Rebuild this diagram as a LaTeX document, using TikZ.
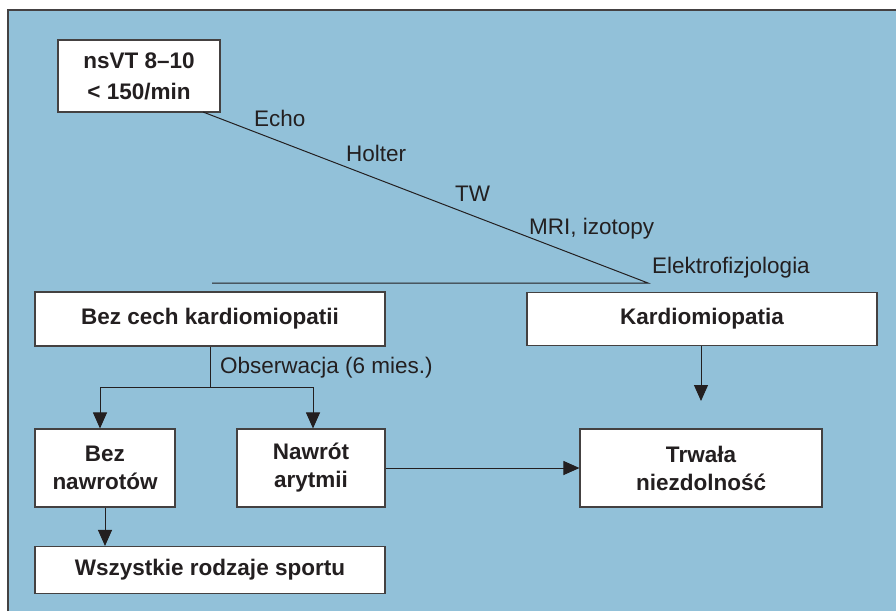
\documentclass[tikz,border=0pt]{standalone}
\usepackage{fontspec}
\setmainfont{Liberation Sans}
\usetikzlibrary{arrows.meta}
\definecolor{panel}{HTML}{92C1D9}
\definecolor{ink}{HTML}{231F20}
\begin{document}
\begin{tikzpicture}[x=1pt,y=-1pt,
  box/.style={draw=ink!85,line width=1.1pt,fill=white,inner sep=0pt,font=\fontsize{22.5}{28}\selectfont\bfseries,text=ink,align=center},
  lbl/.style={font=\fontsize{22.5}{27}\selectfont,text=ink,inner sep=0pt,anchor=base west},
  conn/.style={draw=ink,line width=1pt},
  arr/.style={conn,-{Triangle[width=14pt,length=16pt]}}]
\useasboundingbox (0,0) rectangle (896,611);
\fill[white] (0,0) rectangle (896,611);
\fill[panel] (8,10) rectangle (896,611);
\draw[ink!85,line width=1.5pt] (8,611) -- (8,10) -- (896,10);
% boxes
\node[box,minimum width=162pt,minimum height=72pt] (nsvt) at (139,76) {nsVT 8--10\\[3pt]< 150/min};
\node[box,minimum width=350pt,minimum height=54pt] (bez) at (210,319) {Bez cech kardiomiopatii};
\node[box,minimum width=350pt,minimum height=53pt] (kard) at (702,319) {Kardiomiopatia};
\node[box,minimum width=140pt,minimum height=78pt] (bn) at (105,468) {Bez\\nawrotów};
\node[box,minimum width=148pt,minimum height=78pt] (na) at (311,468) {Nawrót\\arytmii};
\node[box,minimum width=242pt,minimum height=78pt] (tn) at (701,468) {Trwała\\niezdolność};
\node[box,minimum width=350pt,minimum height=47pt] (ws) at (210,570) {Wszystkie rodzaje sportu};
% coordinates
\coordinate (d0) at (203,112);
\coordinate (apex) at (648,283);
\coordinate (hl) at (212,283);
\coordinate (split) at (210,387);
\coordinate (sl) at (100,387);
\coordinate (sr) at (313,387);
\coordinate (kend) at (701,401);
% connectors
\draw[conn] (d0) -- (apex) -- (hl);
\draw[conn] (bez.south) -- (split);
\draw[conn] (sl) -- (sr);
\draw[arr] (sl) -- (bn.north -| sl);
\draw[arr] (sr) -- (na.north -| sr);
\draw[arr] (na.east) -- (tn.west);
\draw[arr] (kard.south -| kend) -- (kend);
\draw[arr] (bn.south) -- (ws.north -| bn.south);
% labels
\node[lbl] (l1) at (254,126) {Echo};
\node[lbl] (l2) at (346,161) {Holter};
\node[lbl] (l3) at (455,201) {TW};
\node[lbl] (l4) at (529,234) {MRI, izotopy};
\node[lbl] (l5) at (652,273) {Elektrofizjologia};
\node[lbl] (l6) at (220,373) {Obserwacja (6 mies.)};
\end{tikzpicture}
\end{document}
